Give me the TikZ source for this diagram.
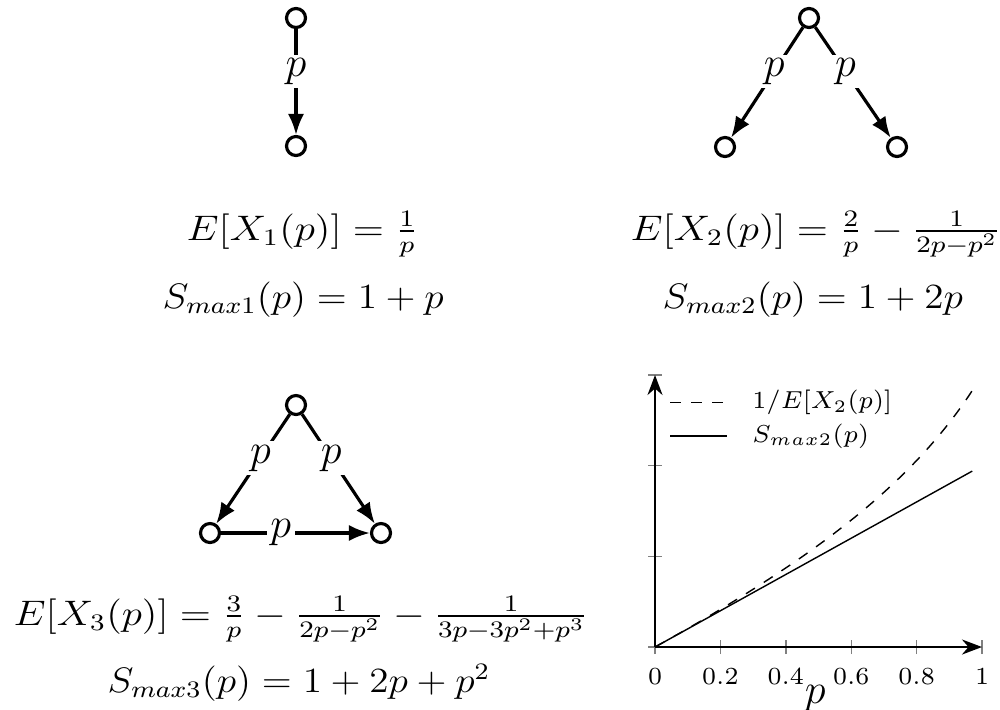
\documentclass[tikz,border=0pt]{standalone}
\usepackage{amsmath, amssymb}
\usetikzlibrary{arrows.meta}

\tikzset{
  vtx/.style={circle, draw, line width=0.9pt, minimum size=0.19cm, inner sep=0pt},
  trans/.style={line width=0.9pt, -{Latex[length=6pt,width=4.6pt]}},
  prob/.style={fill=white, inner sep=1pt, pos=0.4},
  formula/.style={anchor=base west, inner sep=0pt, font=\large, xscale=0.97, yscale=0.84},
  smax/.style={formula, xscale=0.96},
}

\begin{document}
\begin{tikzpicture}[x=1cm,y=1cm]
  \useasboundingbox (0,0) rectangle (10,7.09);
  % one transition
  \node[vtx] (a1) at (2.96,6.91) {};
  \node[vtx] (b1) at (2.96,5.63) {};
  \draw[trans] (a1) -- node[prob] {\large $p$} (b1);
  \node[formula] (e1) at (1.86,4.69) {$E[X_1(p)] = \frac{1}{p}$};
  \node[smax] (s1) at (1.62,4.01) {$S_{max1}(p) = 1+p$};
  % two transitions
  \node[vtx] (a2) at (8.09,6.91) {};
  \node[vtx] (b2) at (7.25,5.62) {};
  \node[vtx] (c2) at (8.97,5.62) {};
  \draw[trans] (a2) -- node[prob] {\large $p$} (b2);
  \draw[trans] (a2) -- node[prob] {\large $p$} (c2);
  \node[formula] (e2) at (6.30,4.69) {$E[X_2(p)] = \frac{2}{p} - \frac{1}{2p-p^2}$};
  \node[smax] (s2) at (6.62,4.01) {$S_{max2}(p) = 1+2p$};
  % three transitions
  \node[vtx] (a3) at (2.96,3.04) {};
  \node[vtx] (b3) at (2.10,1.76) {};
  \node[vtx] (c3) at (3.81,1.76) {};
  \draw[trans] (a3) -- node[prob] {\large $p$} (b3);
  \draw[trans] (a3) -- node[prob] {\large $p$} (c3);
  \draw[trans] (b3) -- node[prob] {\large $p$} (c3);
  \node[formula] (e3) at (0.13,0.84) {$E[X_3(p)] = \frac{3}{p} - \frac{1}{2p-p^2} - \frac{1}{3p-3p^2+p^3}$};
  \node[smax] (s3) at (1.07,0.17) {$S_{max3}(p) = 1+2p+p^2$};
  % plot
  \begin{scope}[shift={(6.55,0.62)}, x=3.27cm, y=2.72cm]
    \foreach \t/\l [count=\i] in {0/0, 0.2/0.2, 0.4/0.4, 0.6/0.6, 0.8/0.8, 1/1}
      {\draw[gray] (\t,-0.026) -- (\t,0.026);
       \node[below] (tick\i) at (\t,-0.035) {\scriptsize $\l$};}
    \foreach \v in {0, 0.3333, 0.6667, 1}
      \draw[gray] (-0.021,\v) -- (0.021,\v);
    \draw[semithick, -{Stealth}] (0,0) -- (1,0);
    \draw[semithick, -{Stealth}] (0,0) -- (0,1);
    \node (plab) at (0.49,-0.19) {\large $p$};
    \draw[dashed] plot[domain=0:0.97, samples=60, smooth] (\x, {\x*(2-\x)/(3-2*\x)});
    \draw (0,0) -- (0.97,0.6467);
    % legend
    \draw[dashed] (0.046,0.898) -- (0.22,0.898);
    \node[right] (leg1) at (0.26,0.898) {\scriptsize $1/E[X_2(p)]$};
    \draw (0.046,0.776) -- (0.22,0.776);
    \node[right] (leg2) at (0.26,0.776) {\scriptsize $S_{max2}(p)$};
  \end{scope}
\end{tikzpicture}
\end{document}
